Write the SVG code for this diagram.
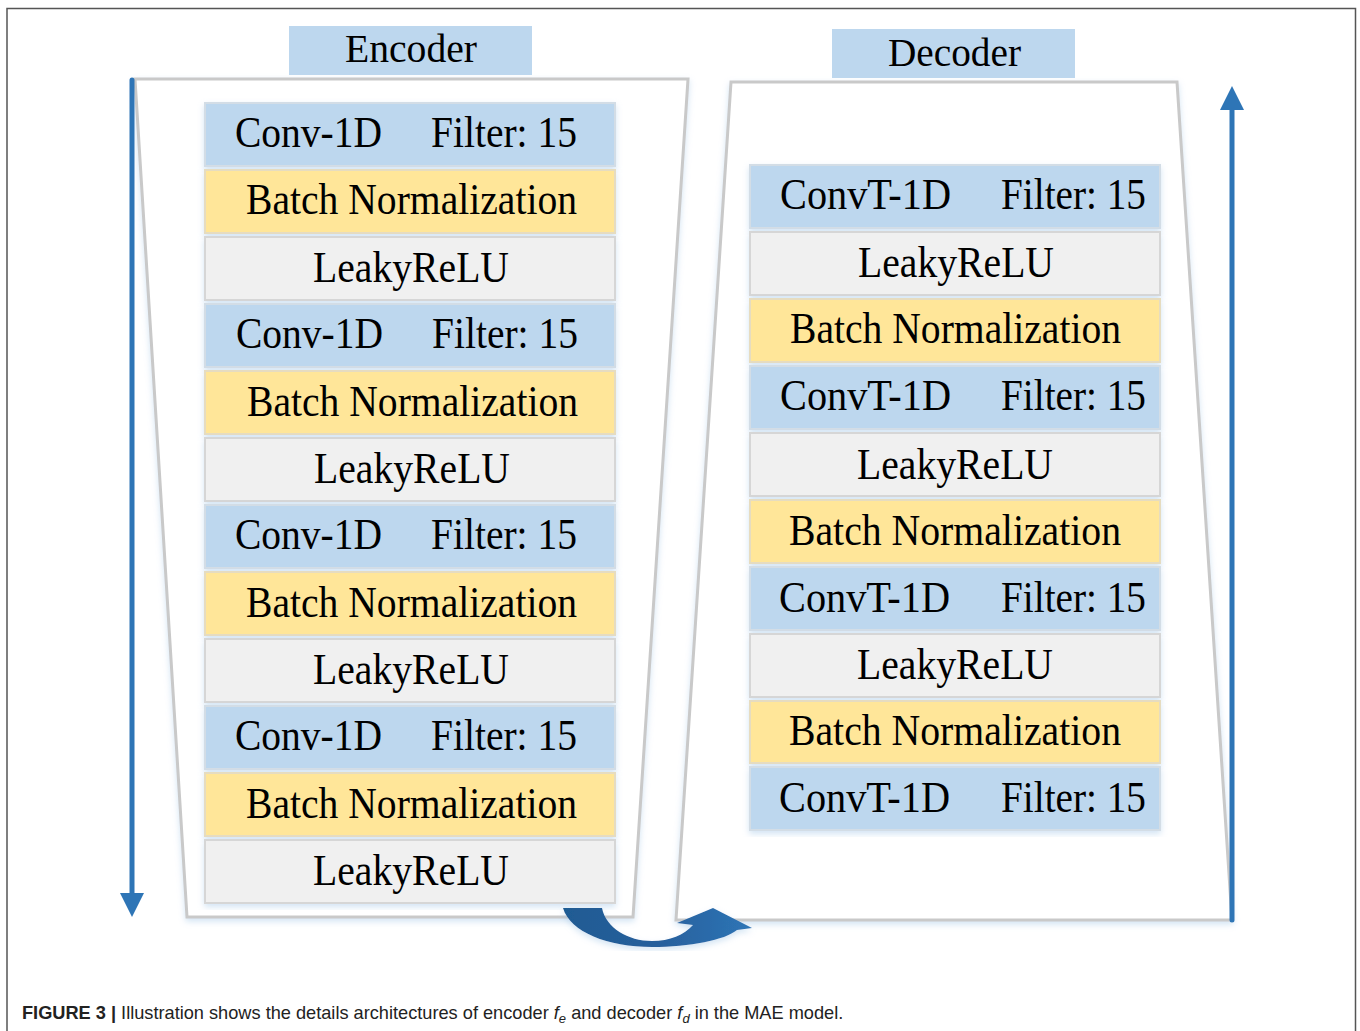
<svg xmlns="http://www.w3.org/2000/svg" width="1360" height="1031" viewBox="0 0 1360 1031">
  <defs>
    <style>
      .lbl { font-family: "Liberation Serif", "Times New Roman", serif; font-size: 45px; fill: #000; }
      .hdr { font-family: "Liberation Serif", "Times New Roman", serif; font-size: 41px; fill: #000; }
      .conv { fill: #BDD7EE; stroke: #D3DDE6; stroke-width: 2; }
      .bn { fill: #FFE699; stroke: #E6DCC0; stroke-width: 2; }
      .act { fill: #F0F0F0; stroke: #D6D6D6; stroke-width: 2; }
      .frame { fill: #FFFFFF; stroke: #C9C9C9; stroke-width: 3; stroke-linejoin: miter; }
      .flow { stroke: #2E75B6; stroke-width: 5; stroke-linecap: round; fill: none; }
      .cap { font-family: "Liberation Sans", Arial, sans-serif; font-size: 18.2px; fill: #222; }
    </style>
    <filter id="glow" x="-10%" y="-10%" width="120%" height="120%">
      <feDropShadow dx="0" dy="3" stdDeviation="3" flood-color="#9DC3E6" flood-opacity="0.45"/>
    </filter>
    <linearGradient id="bend" x1="0" y1="0" x2="1" y2="0">
      <stop offset="0" stop-color="#1F5B93"/>
      <stop offset="0.5" stop-color="#275F9C"/>
      <stop offset="1" stop-color="#2E75B6"/>
    </linearGradient>
  </defs>

  <!-- figure border -->
  <path d="M7,1031 L7,8.5 L1355.5,8.5 L1355.5,1031" fill="none" stroke="#555" stroke-width="1.5"/>

  <!-- encoder / decoder frames -->
  <g id="encoder-frame">
    <polygon class="frame" filter="url(#glow)" points="135,79 688,79 633,917 187,917"/>
    <rect x="289" y="26" width="243" height="49" fill="#BDD7EE"/>
    <text class="hdr" x="345" y="62" textLength="132" lengthAdjust="spacingAndGlyphs">Encoder</text>
  </g>
  <g id="decoder-frame">
    <polygon class="frame" filter="url(#glow)" points="731,82 1177,82 1232,920 676,920"/>
    <rect x="832" y="29" width="243" height="49" fill="#BDD7EE"/>
    <text class="hdr" x="888" y="66" textLength="133" lengthAdjust="spacingAndGlyphs">Decoder</text>
  </g>

  <!-- encoder layers -->
  <g id="enc-1"><rect class="conv" filter="url(#glow)" x="205" y="103" width="410" height="63"/>
    <text class="lbl" x="235" y="147" textLength="147" lengthAdjust="spacingAndGlyphs">Conv-1D</text>
    <text class="lbl" x="431" y="147" textLength="146" lengthAdjust="spacingAndGlyphs">Filter: 15</text></g>
  <g id="enc-2"><rect class="bn" filter="url(#glow)" x="205" y="170" width="410" height="63"/>
    <text class="lbl" x="246" y="214" textLength="331" lengthAdjust="spacingAndGlyphs">Batch Normalization</text></g>
  <g id="enc-3"><rect class="act" filter="url(#glow)" x="205" y="237" width="410" height="63"/>
    <text class="lbl" x="313" y="282" textLength="196" lengthAdjust="spacingAndGlyphs">LeakyReLU</text></g>
  <g id="enc-4"><rect class="conv" filter="url(#glow)" x="205" y="304" width="410" height="63"/>
    <text class="lbl" x="236" y="348" textLength="147" lengthAdjust="spacingAndGlyphs">Conv-1D</text>
    <text class="lbl" x="432" y="348" textLength="146" lengthAdjust="spacingAndGlyphs">Filter: 15</text></g>
  <g id="enc-5"><rect class="bn" filter="url(#glow)" x="205" y="371" width="410" height="63"/>
    <text class="lbl" x="247" y="416" textLength="331" lengthAdjust="spacingAndGlyphs">Batch Normalization</text></g>
  <g id="enc-6"><rect class="act" filter="url(#glow)" x="205" y="438" width="410" height="63"/>
    <text class="lbl" x="314" y="483" textLength="196" lengthAdjust="spacingAndGlyphs">LeakyReLU</text></g>
  <g id="enc-7"><rect class="conv" filter="url(#glow)" x="205" y="505" width="410" height="63"/>
    <text class="lbl" x="235" y="549" textLength="147" lengthAdjust="spacingAndGlyphs">Conv-1D</text>
    <text class="lbl" x="431" y="549" textLength="146" lengthAdjust="spacingAndGlyphs">Filter: 15</text></g>
  <g id="enc-8"><rect class="bn" filter="url(#glow)" x="205" y="572" width="410" height="63"/>
    <text class="lbl" x="246" y="617" textLength="331" lengthAdjust="spacingAndGlyphs">Batch Normalization</text></g>
  <g id="enc-9"><rect class="act" filter="url(#glow)" x="205" y="639" width="410" height="63"/>
    <text class="lbl" x="313" y="684" textLength="196" lengthAdjust="spacingAndGlyphs">LeakyReLU</text></g>
  <g id="enc-10"><rect class="conv" filter="url(#glow)" x="205" y="706" width="410" height="63"/>
    <text class="lbl" x="235" y="750" textLength="147" lengthAdjust="spacingAndGlyphs">Conv-1D</text>
    <text class="lbl" x="431" y="750" textLength="146" lengthAdjust="spacingAndGlyphs">Filter: 15</text></g>
  <g id="enc-11"><rect class="bn" filter="url(#glow)" x="205" y="773" width="410" height="63"/>
    <text class="lbl" x="246" y="818" textLength="331" lengthAdjust="spacingAndGlyphs">Batch Normalization</text></g>
  <g id="enc-12"><rect class="act" filter="url(#glow)" x="205" y="840" width="410" height="63"/>
    <text class="lbl" x="313" y="885" textLength="196" lengthAdjust="spacingAndGlyphs">LeakyReLU</text></g>

  <!-- decoder layers -->
  <g id="dec-1"><rect class="conv" filter="url(#glow)" x="750" y="165" width="410" height="63"/>
    <text class="lbl" x="780" y="209" textLength="171" lengthAdjust="spacingAndGlyphs">ConvT-1D</text>
    <text class="lbl" x="1001" y="209" textLength="145" lengthAdjust="spacingAndGlyphs">Filter: 15</text></g>
  <g id="dec-2"><rect class="act" filter="url(#glow)" x="750" y="232" width="410" height="63"/>
    <text class="lbl" x="858" y="277" textLength="196" lengthAdjust="spacingAndGlyphs">LeakyReLU</text></g>
  <g id="dec-3"><rect class="bn" filter="url(#glow)" x="750" y="299" width="410" height="63"/>
    <text class="lbl" x="790" y="343" textLength="331" lengthAdjust="spacingAndGlyphs">Batch Normalization</text></g>
  <g id="dec-4"><rect class="conv" filter="url(#glow)" x="750" y="366" width="410" height="63"/>
    <text class="lbl" x="780" y="410" textLength="171" lengthAdjust="spacingAndGlyphs">ConvT-1D</text>
    <text class="lbl" x="1001" y="410" textLength="145" lengthAdjust="spacingAndGlyphs">Filter: 15</text></g>
  <g id="dec-5"><rect class="act" filter="url(#glow)" x="750" y="433" width="410" height="63"/>
    <text class="lbl" x="857" y="479" textLength="196" lengthAdjust="spacingAndGlyphs">LeakyReLU</text></g>
  <g id="dec-6"><rect class="bn" filter="url(#glow)" x="750" y="500" width="410" height="63"/>
    <text class="lbl" x="789" y="545" textLength="332" lengthAdjust="spacingAndGlyphs">Batch Normalization</text></g>
  <g id="dec-7"><rect class="conv" filter="url(#glow)" x="750" y="567" width="410" height="63"/>
    <text class="lbl" x="779" y="612" textLength="171" lengthAdjust="spacingAndGlyphs">ConvT-1D</text>
    <text class="lbl" x="1001" y="612" textLength="145" lengthAdjust="spacingAndGlyphs">Filter: 15</text></g>
  <g id="dec-8"><rect class="act" filter="url(#glow)" x="750" y="634" width="410" height="63"/>
    <text class="lbl" x="857" y="679" textLength="196" lengthAdjust="spacingAndGlyphs">LeakyReLU</text></g>
  <g id="dec-9"><rect class="bn" filter="url(#glow)" x="750" y="701" width="410" height="62"/>
    <text class="lbl" x="789" y="745" textLength="332" lengthAdjust="spacingAndGlyphs">Batch Normalization</text></g>
  <g id="dec-10"><rect class="conv" filter="url(#glow)" x="750" y="767" width="410" height="63"/>
    <text class="lbl" x="779" y="812" textLength="171" lengthAdjust="spacingAndGlyphs">ConvT-1D</text>
    <text class="lbl" x="1001" y="812" textLength="145" lengthAdjust="spacingAndGlyphs">Filter: 15</text></g>

  <!-- connectors: data flow -->
  <g id="connectors">
    <line class="flow" x1="132" y1="80" x2="132" y2="895"/>
    <polygon points="120,893 144,893 132,917" fill="#2E75B6"/>
    <line class="flow" x1="1232" y1="920" x2="1232" y2="108"/>
    <polygon points="1220,110 1244,110 1232,86" fill="#2E75B6"/>
    <path filter="url(#glow)" fill="url(#bend)" d="M563,908 L602,908 C606,928 628,941 652,941 C670,941 684,935 693,925 L677,923 L713,908 L752,928 L737,930 C725,940 690,947 652,947 C608,947 570,932 563,908 Z"/>
  </g>

  <!-- caption -->
  <text class="cap" x="22" y="1019"><tspan font-weight="bold">FIGURE 3 |</tspan> Illustration shows the details architectures of encoder <tspan font-style="italic">f</tspan><tspan font-style="italic" font-size="13" dy="4">e</tspan><tspan dy="-4"> and decoder </tspan><tspan font-style="italic">f</tspan><tspan font-style="italic" font-size="13" dy="4">d</tspan><tspan dy="-4"> in the MAE model.</tspan></text>
</svg>
